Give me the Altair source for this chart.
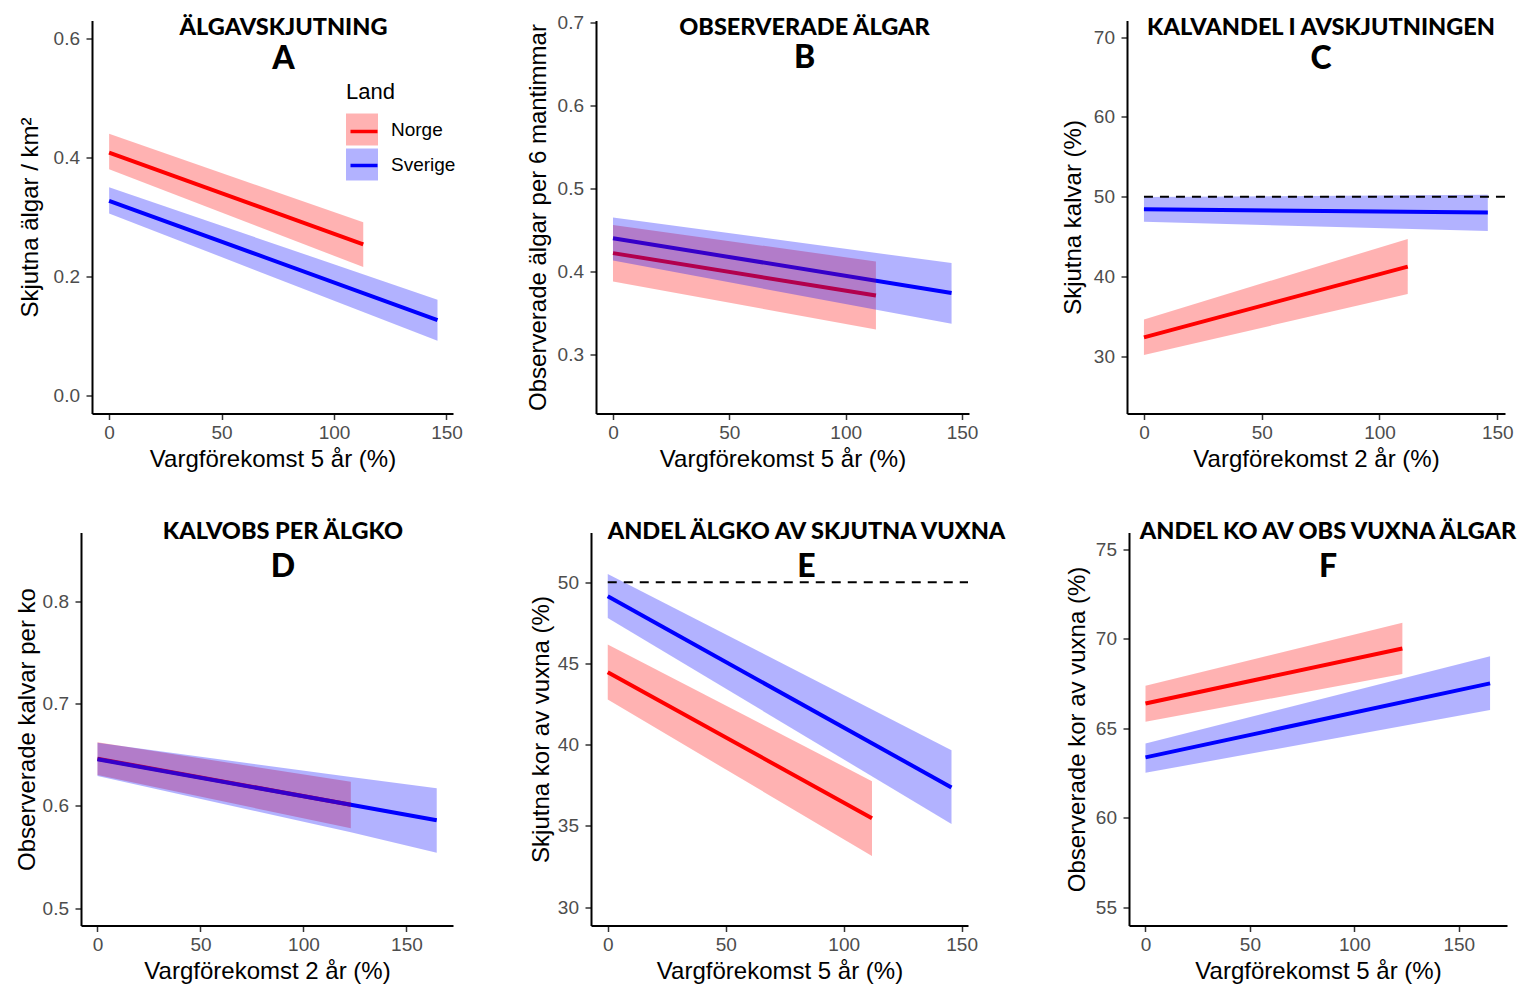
import altair as alt
import pandas as pd

LANDS = ["Norge", "Sverige"]
COLORS = ["#FF0000", "#0000FF"]
X_TICKS = [0, 50, 100, 150]

# ---- Panel A: Älgavskjutning (x: Vargförekomst 5 år) ----
A_norge_x = [0, 113]
A_norge_fit = [0.408, 0.254]
A_norge_lo = [0.380, 0.216]
A_norge_hi = [0.440, 0.291]
A_sverige_x = [0, 146]
A_sverige_fit = [0.327, 0.127]
A_sverige_lo = [0.306, 0.092]
A_sverige_hi = [0.350, 0.161]

# ---- Panel B: Observerade älgar ----
B_norge_x = [0, 113]
B_norge_fit = [0.422, 0.371]
B_norge_lo = [0.388, 0.330]
B_norge_hi = [0.456, 0.412]
B_sverige_x = [0, 145.5]
B_sverige_fit = [0.440, 0.374]
B_sverige_lo = [0.413, 0.337]
B_sverige_hi = [0.465, 0.410]

# ---- Panel C: Kalvandel i avskjutningen (x: 2 år) ----
C_norge_x = [0, 112]
C_norge_fit = [32.35, 41.23]
C_norge_lo = [30.13, 37.8]
C_norge_hi = [34.6, 44.7]
C_sverige_x = [0, 146]
C_sverige_fit = [48.43, 48.0]
C_sverige_lo = [46.85, 45.7]
C_sverige_hi = [49.95, 50.25]

# ---- Panel D: Kalvobs per älgko (x: 2 år) ----
D_norge_x = [0, 123]
D_norge_fit = [0.646, 0.601]
D_norge_lo = [0.630, 0.578]
D_norge_hi = [0.662, 0.6235]
D_sverige_x = [0, 123, 164.7]
D_sverige_fit = [0.6454, 0.601, 0.5858]
D_sverige_lo = [0.629, 0.574, 0.554]
D_sverige_hi = [0.6616, 0.628, 0.617]

# ---- Panel E: Andel älgko av skjutna vuxna ----
E_norge_x = [0, 112]
E_norge_fit = [44.47, 35.47]
E_norge_lo = [42.78, 33.15]
E_norge_hi = [46.17, 37.76]
E_sverige_x = [0, 145.7]
E_sverige_fit = [49.14, 37.37]
E_sverige_lo = [47.81, 35.12]
E_sverige_hi = [50.52, 39.66]

# ---- Panel F: Andel ko av obs vuxna älgar ----
F_norge_x = [0, 123]
F_norge_fit = [66.39, 69.46]
F_norge_lo = [65.37, 68.03]
F_norge_hi = [67.38, 70.89]
F_sverige_x = [0, 165]
F_sverige_fit = [63.38, 67.51]
F_sverige_lo = [62.52, 66.02]
F_sverige_hi = [64.16, 69.03]


def make_df(groups):
    rows = []
    for land, xs, fit, lo, hi in groups:
        for i in range(len(xs)):
            rows.append({"x": xs[i], "fit": fit[i], "lo": lo[i], "hi": hi[i],
                         "Land": land, "LandFill": land})
    return pd.DataFrame(rows)


AXIS_FONT = "Liberation Sans"
TITLE_FONT = "Lato"

LEG_X = 335
LEG_Y = 61


def panel(df, xdom, ydom, yticks, yfmt, xtitle, ytitle, title, letter, dx,
          w, h, ypad, toff, tpad, legends=False, ref=None):
    xax = alt.Axis(values=X_TICKS, format="d", title=xtitle, titlePadding=4.5,
                   labelPadding=4)
    yax = alt.Axis(values=yticks, format=yfmt, title=ytitle, titlePadding=ypad,
                   labelPadding=6.5)
    xs = alt.Scale(domain=xdom, nice=False, zero=False)
    ys = alt.Scale(domain=ydom, nice=False, zero=False)
    if legends:
        # line symbols drawn on top of the band squares (labels shown by the fill legend)
        stroke_leg = alt.Legend(title=" ", orient="none", legendX=LEG_X + 2.5,
                                legendY=LEG_Y + 2.5, labelExpr="''",
                                symbolType="stroke", symbolSize=729, symbolStrokeWidth=3.5,
                                rowPadding=8, labelOpacity=0, titleOpacity=0,
                                labelFontSize=19, titleFontSize=22, labelOffset=15.5,
                                titlePadding=10, labelFont=AXIS_FONT, titleFont=AXIS_FONT)
        fill_leg = alt.Legend(title="Land", orient="none", legendX=LEG_X, legendY=LEG_Y,
                              symbolType="square", symbolSize=1024, symbolOpacity=0.3,
                              symbolStrokeWidth=0, rowPadding=3, labelFontSize=19,
                              titleFontSize=22, labelOffset=13, titlePadding=10,
                              labelFont=AXIS_FONT, titleFont=AXIS_FONT,
                              titleFontWeight="normal", labelColor="black",
                              titleColor="black")
    else:
        stroke_leg = None
        fill_leg = None
    line = alt.Chart(df).mark_line(strokeWidth=4).encode(
        x=alt.X("x:Q", scale=xs, axis=xax),
        y=alt.Y("fit:Q", scale=ys, axis=yax),
        stroke=alt.Stroke("Land:N", scale=alt.Scale(range=COLORS), legend=stroke_leg),
    )
    area = alt.Chart(df).mark_area(opacity=0.3).encode(
        x=alt.X("x:Q", scale=xs, axis=xax),
        y=alt.Y("lo:Q", scale=ys, axis=yax),
        y2="hi:Q",
        fill=alt.Fill("LandFill:N", scale=alt.Scale(range=COLORS), legend=fill_leg),
    )
    layers = [line, area]
    if ref is not None:
        rdf = pd.DataFrame({"x": [0], "fit": [ref]})
        rule = alt.Chart(rdf).mark_rule(color="black", strokeWidth=2,
                                        strokeDash=[9, 7]).encode(
            x=alt.X("x:Q", scale=xs, axis=xax),
            x2=alt.value(w),
            y=alt.Y("fit:Q", scale=ys, axis=yax),
        )
        layers.append(rule)
    return alt.layer(*layers).properties(
        width=w, height=h,
        title=alt.TitleParams(text=title, subtitle=letter, font=TITLE_FONT, fontSize=23.5,
                              fontWeight=900, color="black", subtitleFont=TITLE_FONT,
                              subtitleFontSize=32, subtitleFontWeight=900,
                              subtitleColor="black", subtitlePadding=tpad,
                              anchor="middle", frame="group", dx=dx, offset=toff),
    )


def spacer(w, h):
    return alt.Chart(pd.DataFrame({"s": [0]})).mark_point(opacity=0).encode(
        x=alt.X("s:Q", axis=None), y=alt.Y("s:Q", axis=None)
    ).properties(width=w, height=h)


dfA = make_df([("Norge", A_norge_x, A_norge_fit, A_norge_lo, A_norge_hi),
               ("Sverige", A_sverige_x, A_sverige_fit, A_sverige_lo, A_sverige_hi)])
dfB = make_df([("Norge", B_norge_x, B_norge_fit, B_norge_lo, B_norge_hi),
               ("Sverige", B_sverige_x, B_sverige_fit, B_sverige_lo, B_sverige_hi)])
dfC = make_df([("Norge", C_norge_x, C_norge_fit, C_norge_lo, C_norge_hi),
               ("Sverige", C_sverige_x, C_sverige_fit, C_sverige_lo, C_sverige_hi)])
dfD = make_df([("Norge", D_norge_x, D_norge_fit, D_norge_lo, D_norge_hi),
               ("Sverige", D_sverige_x, D_sverige_fit, D_sverige_lo, D_sverige_hi)])
dfE = make_df([("Norge", E_norge_x, E_norge_fit, E_norge_lo, E_norge_hi),
               ("Sverige", E_sverige_x, E_sverige_fit, E_sverige_lo, E_sverige_hi)])
dfF = make_df([("Norge", F_norge_x, F_norge_fit, F_norge_lo, F_norge_hi),
               ("Sverige", F_sverige_x, F_sverige_fit, F_sverige_lo, F_sverige_hi)])

X5 = "Vargförekomst 5 år (%)"
X2 = "Vargförekomst 2 år (%)"
H = 393

pA = panel(dfA, [-7.6, 152.9], [-0.03, 0.63], [0.0, 0.2, 0.4, 0.6], ".1f", X5,
           "Skjutna älgar / km²", "ÄLGAVSKJUTNING", "A", 11, 361, H,
           10.1, -54, 4, legends=True)
pB = panel(dfB, [-7.3, 153], [0.229, 0.702], [0.3, 0.4, 0.5, 0.6, 0.7], ".1f", X5,
           "Observerade älgar per 6 mantimmar", "OBSERVERADE ÄLGAR", "B", 22, 373, H,
           6.1, -61, 4)
pC = panel(dfC, [-7.2, 153.3], [22.8, 72.1], [30, 40, 50, 60, 70], "d", X2,
           "Skjutna kalvar (%)", "KALVANDEL I AVSKJUTNINGEN", "C", 5, 378, H,
           8.1, -54, 4, ref=50)
pD = panel(dfD, [-8.0, 172.6], [0.483, 0.867], [0.5, 0.6, 0.7, 0.8], ".1f", X2,
           "Observerade kalvar per ko", "KALVOBS PER ÄLGKO", "D", 16, 372, H,
           2.6, -50.5, 9)
pE = panel(dfE, [-7.1, 152.7], [28.87, 53.07], [30, 35, 40, 45, 50], "d", X5,
           "Skjutna kor av vuxna (%)", "ANDEL ÄLGKO AV SKJUTNA VUXNA", "E", 27, 377, H,
           4.1, -50.5, 9, ref=50)
pF = panel(dfF, [-7.9, 173.1], [54.0, 75.93], [55, 60, 65, 70, 75], "d", X5,
           "Observerade kor av vuxna (%)", "ANDEL KO AV OBS VUXNA ÄLGAR", "F", 10, 378, H,
           5.5, -50.5, 9)

row1 = alt.hconcat(spacer(7, H), pA, spacer(63, H), pB, spacer(82.5, H), pC, spacing=0)
row2 = alt.hconcat(spacer(1, H), pD, spacer(75.3, H), pE, spacer(56.3, H), pF, spacing=0)

chart = alt.vconcat(row1, row2, spacing=48).properties(
    padding={"left": 0, "top": 4.5, "right": 5, "bottom": 5}
).configure_view(stroke=None).configure_axis(
    labelFont=AXIS_FONT, labelFontSize=19, labelColor="#4D4D4D",
    titleFont=AXIS_FONT, titleFontSize=24, titleFontWeight="normal", titleColor="black",
    domainColor="black", domainWidth=2, tickColor="#333333", tickSize=6, tickWidth=1.5,
    grid=False,
)

chart.save("out.html", embed_options={"renderer": "svg", "actions": False})
